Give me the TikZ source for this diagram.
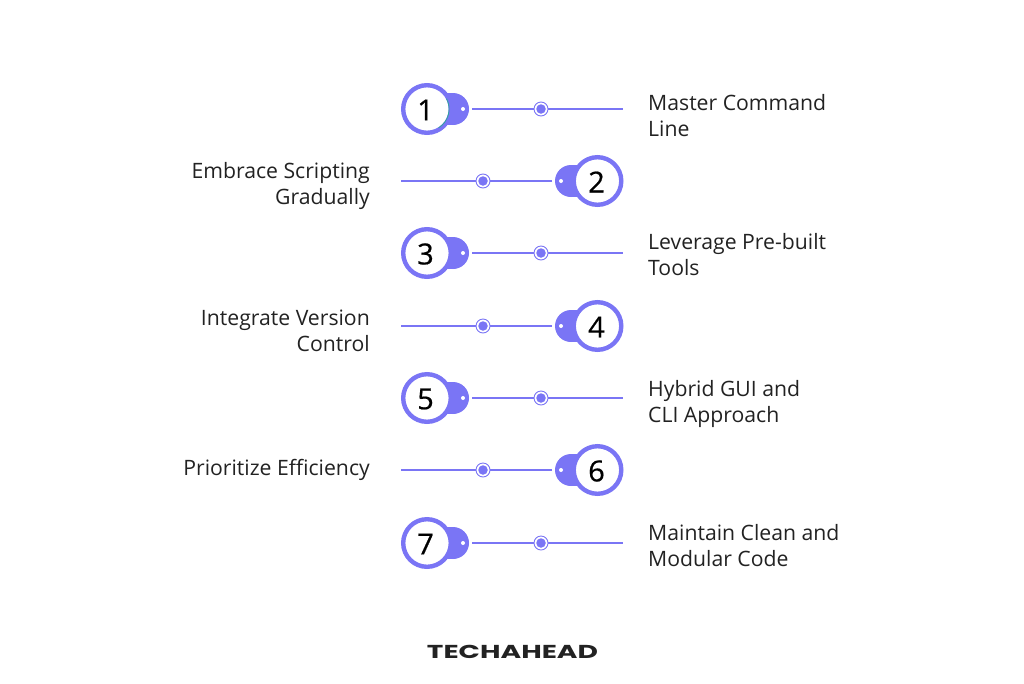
\documentclass[tikz,border=0pt]{standalone}
\usepackage{fontspec}
\setmainfont{Open Sans}
\newfontfamily\numfont{Open Sans}[FakeBold=0.6]
\newfontfamily\logofont{Poppins}[FakeStretch=1.5]
\definecolor{vio}{HTML}{7A75F5}
\definecolor{ink}{HTML}{222222}
\definecolor{tealarc}{HTML}{2FA59B}
\tikzset{
 x=1pt,y=-1pt,
 ringc/.style={circle,draw=vio,line width=4.4pt,fill=white,minimum size=47.6pt,inner sep=0pt,text=black,font=\numfont\fontsize{29}{29}\selectfont},
 blob/.style={circle,fill=vio,minimum size=32pt,inner sep=0pt},
 pin/.style={circle,fill=white,minimum size=4pt,inner sep=0pt},
 ball/.style={circle,fill=vio,minimum size=9.5pt,inner sep=0pt},
 halo/.style={circle,draw=vio,line width=.9pt,fill=white,minimum size=14pt,inner sep=0pt},
 wire/.style={draw=vio,line width=2.7pt},
 lbl/.style={font=\fontsize{21.2}{26}\selectfont,text=ink,inner sep=0pt},
 lblr/.style={lbl,anchor=west,align=left},
 lbll/.style={lbl,anchor=east,align=right},
}
\newcommand{\rowR}[4]{%
 \node[blob] (b#1) at (453,#2) {};
 \fill[vio] (438,#2-16) rectangle (453,#2+16);
 \node[ringc] (c#1) at (427,#2) {};
 \node[text=black,font=\numfont\fontsize{29}{29}\selectfont,inner sep=0pt] (n#1) at (425.5,#2+1) {#1};
 \node[pin] (p#1) at (463,#2) {};
 \coordinate (s#1) at (472,#2);
 \coordinate (e#1) at (623,#2);
 \node[halo] (h#1) at (541,#2) {};
 \node[ball] (m#1) at (541,#2) {};
 \draw[wire] (s#1) -- (h#1);
 \draw[wire] (h#1) -- (e#1);
 \node[lblr] (t#1) at (648,#2+#4) {#3};
}
\newcommand{\rowL}[4]{%
 \node[blob] (b#1) at (571,#2) {};
 \fill[vio] (571,#2-16) rectangle (586,#2+16);
 \node[ringc] (c#1) at (597.5,#2) {};
 \node[text=black,font=\numfont\fontsize{29}{29}\selectfont,inner sep=0pt] (n#1) at (596.5,#2+1) {#1};
 \node[pin] (p#1) at (561,#2) {};
 \coordinate (s#1) at (552,#2);
 \coordinate (e#1) at (401,#2);
 \node[halo] (h#1) at (483,#2) {};
 \node[ball] (m#1) at (483,#2) {};
 \draw[wire] (s#1) -- (h#1);
 \draw[wire] (h#1) -- (e#1);
 \node[lbll] (t#1) at (370,#2+#4) {#3};
}
\begin{document}
\begin{tikzpicture}
\useasboundingbox (0,0) rectangle (1024,683);
\rowR{1}{109}{Master Command\\Line}{6.5}
\draw[tealarc,line width=.8pt] (c1.center) ++(-28:22.1) arc[start angle=-28,end angle=58,radius=22.1];
\rowL{2}{181}{Embrace Scripting\\Gradually}{5}
\rowR{3}{253}{Leverage Pre-built\\Tools}{1.5}
\rowL{4}{326}{Integrate Version\\Control}{4.5}
\rowR{5}{398}{Hybrid GUI and\\CLI Approach}{5.5}
\rowL{6}{470}{Prioritize Efficiency}{-0.5}
\rowR{7}{543}{Maintain Clean and\\Modular Code}{2.5}
\node[inner sep=0pt,text=ink] (logo) at (512.5,652) {\logofont\bfseries\fontsize{18.7}{19}\selectfont TECHAHEAD};
\end{tikzpicture}
\end{document}
